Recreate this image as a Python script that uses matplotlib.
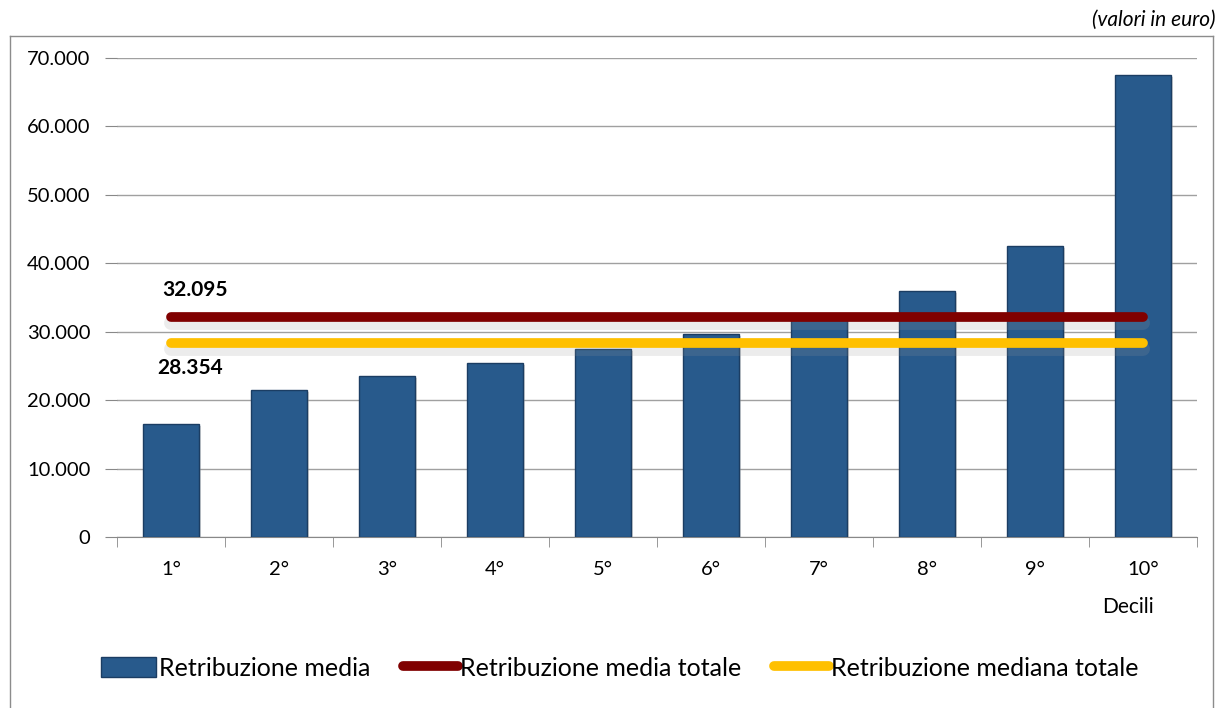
import matplotlib
matplotlib.use("Agg")
import matplotlib.pyplot as plt
import matplotlib.patheffects as pe
from matplotlib.lines import Line2D
from matplotlib.patches import Patch
from matplotlib.ticker import FuncFormatter, MultipleLocator, FixedLocator
import numpy as np

plt.rcParams['font.family'] = ['Lato', 'DejaVu Sans']

categories = ["1°", "2°", "3°", "4°", "5°", "6°", "7°", "8°", "9°", "10°"]
retribuzione_media = [16500, 21500, 23600, 25500, 27500, 29700, 32300, 36000, 42500, 67500]
media_totale = 32095
mediana_totale = 28354
label_media = "32.095"
label_mediana = "28.354"

fig = plt.figure(figsize=(12.2, 7.08), dpi=100)
ax = fig.add_axes([117/1220, 1-537/708, (1197-117)/1220, (537-58)/708])

x = np.arange(len(categories))
bar_color = "#285a8c"
bars = ax.bar(x, retribuzione_media, width=0.52, color=bar_color, edgecolor="#1b3d63",
              linewidth=1.0, zorder=3,
              path_effects=[pe.SimplePatchShadow(offset=(1.5, -1.5), shadow_rgbFace="#999999", alpha=0.4),
                            pe.Normal()])

shadow = [pe.SimpleLineShadow(offset=(0, -4), shadow_color="#999999", alpha=0.18, linewidth=10),
          pe.Normal()]
ax.plot([x[0], x[-1]], [media_totale, media_totale], color="#800000", linewidth=7,
        solid_capstyle="round", zorder=4, path_effects=shadow)
ax.plot([x[0], x[-1]], [mediana_totale, mediana_totale], color="#ffc000", linewidth=7,
        solid_capstyle="round", zorder=4, path_effects=shadow)

ax.text(x[0] + 0.22, 36100, label_media, ha="center", va="center", fontsize=15, fontweight="bold", zorder=5)
ax.text(x[0] + 0.18, 24700, label_mediana, ha="center", va="center", fontsize=15, fontweight="bold", zorder=5)

ax.set_xlim(-0.5, len(categories) - 0.5)
ax.set_ylim(0, 70000)
ax.yaxis.set_major_locator(MultipleLocator(10000))
ax.yaxis.set_major_formatter(FuncFormatter(lambda v, p: f"{int(v):,}".replace(",", ".")))
ax.set_xticks(x)
ax.set_xticklabels(categories)
ax.xaxis.set_minor_locator(FixedLocator(np.arange(-0.5, len(categories), 1.0)))
ax.tick_params(axis="x", which="major", length=0, pad=17, labelsize=14.5)
ax.tick_params(axis="x", which="minor", length=7, color="#888888", direction="out")
ax.tick_params(axis="y", length=9, color="#888888", labelsize=14.5, pad=10)

ax.grid(axis="y", color="#a0a0a0", linewidth=1.0, zorder=0)
ax.set_axisbelow(True)
for s in ["top", "right", "left"]:
    ax.spines[s].set_visible(False)
ax.spines["bottom"].set_color("#888888")

fig.text(1128/1220, 1-607/708, "Decili", ha="center", va="center", fontsize=15)
fig.text(1216/1220, 1-20/708, "(valori in euro)", ha="right", va="center", fontsize=15, style="italic")

# outer border
bc = "#8c8c8c"
fig.add_artist(Line2D([10/1220, 10/1220], [-0.01, 1-36/708], transform=fig.transFigure, color=bc, lw=1))
fig.add_artist(Line2D([10/1220, 1213/1220], [1-36/708, 1-36/708], transform=fig.transFigure, color=bc, lw=1))
fig.add_artist(Line2D([1213/1220, 1213/1220], [-0.01, 1-36/708], transform=fig.transFigure, color=bc, lw=1))

handles = [Patch(facecolor=bar_color, edgecolor="#1b3d63"),
           Line2D([], [], color="#800000", lw=7, solid_capstyle="round"),
           Line2D([], [], color="#ffc000", lw=7, solid_capstyle="round")]
labels = ["Retribuzione media", "Retribuzione media totale", "Retribuzione mediana totale"]
fig.legend(handles, labels, loc="center", bbox_to_anchor=(620/1220, 1-668/708), ncol=3,
           frameon=False, fontsize=18, handlelength=2.2, handletextpad=0.1, columnspacing=1.3,
           handleheight=0.85)

fig.savefig("out.png", dpi=100)
